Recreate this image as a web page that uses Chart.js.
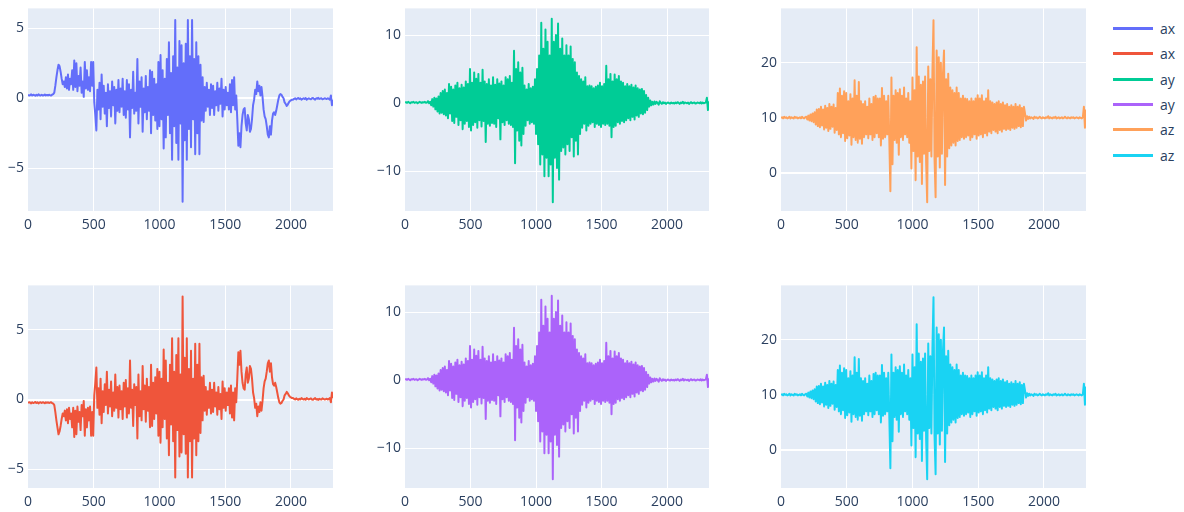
<!DOCTYPE html>
<html>
<head>
<meta charset="utf-8">
<script src="https://cdn.jsdelivr.net/npm/chart.js@4.4.0/dist/chart.umd.min.js"></script>
<style>
  body { margin: 0; background: #fff; width: 1184px; height: 512px; position: relative; overflow: hidden; font-family: "Open Sans", sans-serif; }
  canvas { position: absolute; }
  .legend-item { position: absolute; left: 1113px; height: 20px; display: flex; align-items: center; color: #2a3f5f; font-size: 14px; }
  .legend-item .swatch { width: 40px; height: 3px; margin-right: 7px; }
</style>
</head>
<body>
<script>
// one value every 8 samples (peaks and troughs alternate)
const STEP = 8;
const xTicks = [0, 500, 1000, 1500, 2000];

const ax1 = [0.25,0.2,0.22,0.28,0.2,0.25,0.22,0.18,0.25,0.2,0.28,0.22,0.2,0.25,0.2,0.22,0.27,0.2,0.24,0.2,0.25,0.22,0.2,0.26,0.3,
  0.4,0.9,1.5,2.0,2.4,2.3,1.9,1.4,1.0,1.2,0.8,
  1.5,0.7,1.7,0.6,1.4,1.0,2.0,0.6,2.7,0.8,2.5,0.5,1.6,0.9,2.2,0.4,1.2,0.1,2.6,0.7,2.0,0.6,1.5,0.5,2.6,0.9,2.6,
  -0.3,-1.2,-2.3,0.6,-0.8,1.1,-1.5,1.7,-0.6,0.9,-1.1,0.4,-2.0,1.0,-0.7,0.5,-1.3,1.2,-0.5,0.8,
  -1.8,0.6,-0.9,1.3,-1.0,0.7,-0.6,1.4,-1.2,0.5,-1.4,1.3,-0.8,1.0,-2.8,0.6,-0.7,1.9,-1.1,0.4,
  -0.9,2.8,-1.8,1.2,-0.6,1.5,-2.4,0.7,-1.0,1.6,-1.5,0.8,-0.9,2.0,-2.5,1.9,-1.2,1.4,-1.6,1.0,-2.2,2.6,
  -2.0,3.1,-1.5,2.0,-3.6,1.4,-2.8,2.8,-1.2,4.0,-2.5,1.8,-4.4,3.0,-2.0,5.6,-3.2,2.2,-4.4,4.1,
  -1.8,3.8,-7.4,2.5,-3.0,3.9,-4.4,5.6,-2.2,3.0,-3.5,5.6,-1.5,2.8,-4.0,4.0,-2.5,3.0,-4.0,2.4,-1.6,
  1.5,-1.7,0.8,-0.9,1.1,-0.6,0.6,-1.2,1.0,-0.7,0.9,-1.2,0.5,-0.5,1.1,-0.9,0.7,-0.4,1.4,-1.3,0.6,-0.8,0.8,-0.5,0.4,-0.8,1.0,-1.0,
  1.3,-0.5,1.5,-0.8,0.2,-1.5,-3.4,-2.5,-3.5,-2.0,-1.2,-0.8,-0.7,-1.8,-2.3,-1.2,-1.5,-2.4,-2.2,-1.5,
  -0.5,-0.1,0.6,0.3,1.2,0.5,0.9,0.2,0.8,0.1,-0.8,-1.3,-1.5,-2.0,-2.6,-2.8,-2.0,-2.6,-1.6,-1.1,
  -1.0,-1.2,-0.9,-0.5,-0.1,0.2,0.3,0.25,0.1,0.0,-0.3,-0.4,-0.55,-0.45,-0.3,-0.2,-0.15,-0.1,-0.1,
  -0.05,0.0,-0.08,-0.02,0.02,-0.05,0.0,-0.1,-0.05,0.0,-0.05,0.02,-0.1,-0.05,0.0,-0.05,-0.08,0.0,0.02,-0.05,
  -0.1,0.0,-0.03,0.03,-0.05,-0.02,0.0,-0.08,-0.05,0.0,-0.02,-0.06,0.0,-0.04,-0.1,
  0.2,-0.5,-0.1];

const ax2 = [-0.25,-0.2,-0.22,-0.28,-0.2,-0.25,-0.22,-0.18,-0.25,-0.2,-0.28,-0.22,-0.2,-0.25,-0.2,-0.22,-0.27,-0.2,-0.24,-0.2,-0.25,-0.22,-0.2,-0.26,-0.3,
  -0.4,-0.9,-1.5,-2.0,-2.5,-2.3,-1.9,-1.4,-1.0,-1.2,-0.8,
  -1.5,-0.7,-1.7,-0.6,-1.4,-1.0,-2.0,-0.6,-2.7,-0.8,-2.5,-0.5,-1.6,-0.9,-2.2,-0.4,-1.2,-0.1,-2.6,-0.7,-2.0,-0.6,-1.5,-0.5,-2.6,-0.9,-2.6,
  0.3,1.2,2.3,-0.6,0.8,-1.1,1.5,-1.7,0.6,-0.9,1.1,-0.4,2.0,-1.0,0.7,-0.5,1.3,-1.2,0.5,-0.8,
  1.8,-0.6,0.9,-1.3,1.0,-0.7,0.6,-1.4,1.2,-0.5,1.4,-1.3,0.8,-1.0,2.8,-0.6,0.7,-1.9,1.1,-0.4,
  0.9,-2.8,1.8,-1.2,0.6,-1.5,2.4,-0.7,1.0,-1.6,1.5,-0.8,0.9,-2.0,2.5,-1.9,1.2,-1.4,1.6,-1.0,2.2,-2.6,
  2.0,-3.1,1.5,-2.0,3.6,-1.4,2.8,-2.8,1.2,-4.0,2.5,-1.8,4.4,-3.0,2.0,-5.6,3.2,-2.2,4.4,-4.1,
  1.8,-3.8,7.4,-2.5,3.0,-3.9,4.4,-5.6,2.2,-3.0,3.5,-5.6,1.5,-2.8,4.0,-4.0,2.5,-3.0,4.0,-2.4,1.6,
  -1.5,1.7,-0.8,0.9,-1.1,0.6,-0.6,1.2,-1.0,0.7,-0.9,1.2,-0.5,0.5,-1.1,0.9,-0.7,0.4,-1.4,1.3,-0.6,0.8,-0.8,0.5,-0.4,0.8,-1.0,1.0,
  -1.3,0.5,-1.5,0.8,-0.2,1.5,3.4,2.5,3.5,2.0,1.2,0.8,0.7,1.8,2.3,1.2,1.5,2.4,2.2,1.5,
  0.5,0.1,-0.6,-0.3,-1.2,-0.5,-0.9,-0.2,-0.8,-0.1,0.8,1.3,1.5,2.0,2.6,2.8,2.0,2.6,1.6,1.1,
  1.0,1.2,0.9,0.5,0.1,-0.2,-0.3,-0.25,-0.1,0.0,0.3,0.4,0.55,0.45,0.3,0.2,0.15,0.1,0.1,
  0.05,0.0,0.08,0.02,-0.02,0.05,0.0,0.1,0.05,0.0,0.05,-0.02,0.1,0.05,0.0,0.05,0.08,0.0,-0.02,0.05,
  0.1,0.0,0.03,-0.03,0.05,0.02,0.0,0.08,0.05,0.0,0.02,0.06,0.0,0.04,0.1,
  -0.2,0.5,0.1];

const ay1 = [0.1,0.15,0.05,0.2,0.1,0.0,0.15,0.1,0.2,0.05,0.1,0.15,0.0,0.1,0.2,0.1,0.05,0.15,0.1,0.2,0.05,0.1,0.3,0.0,0.2,
  -0.3,0.6,-0.5,0.8,-0.9,0.7,-1.2,1.0,-1.5,1.5,-1.4,
  1.8,-1.6,2.0,-1.8,1.5,-2.2,2.8,-1.5,2.4,-2.6,2.0,-2.9,2.6,-2.0,3.0,-3.2,2.2,-2.5,2.7,-3.8,2.3,-3.0,3.2,-2.6,2.8,-3.5,5.0,
  -4.0,3.0,-3.2,4.5,-2.8,3.6,-3.6,4.3,-2.5,3.0,-3.4,4.9,-2.6,3.2,-5.7,2.8,-3.0,3.5,-3.3,2.6,
  -2.9,3.8,-3.0,2.7,-3.5,3.5,-2.2,2.9,-5.3,3.2,
  -2.8,2.6,-3.2,3.8,-2.5,3.5,-3.0,4.0,-3.2,3.0,-3.5,7.7,-8.8,5.0,-4.0,6.0,-5.5,4.5,-6.2,5.2,
  -4.5,2.6,-3.3,2.0,-2.5,2.8,-3.0,2.2,-2.8,2.4,-3.0,3.5,
  -4.5,5.0,-6.0,7.0,-9.0,11.8,-7.5,8.0,-10.7,10.8,-8.0,9.0,-10.7,7.0,-9.0,12.4,-14.5,9.0,-8.0,10.0,
  -9.5,11.7,-11.2,8.0,-7.0,9.5,-6.5,7.0,-7.5,8.5,-6.0,7.0,-7.0,8.3,-5.0,6.5,-7.8,6.0,-5.5,4.5,-7.5,
  4.0,-4.5,3.5,-3.6,3.2,-3.0,3.8,-4.0,2.5,-3.3,2.6,-3.0,2.5,-2.8,2.2,-3.5,2.4,-3.0,2.6,-3.2,3.0,-3.5,2.5,-3.0,2.8,-3.2,5.5,-3.0,
  3.5,-3.3,4.3,-5.0,3.2,-3.5,4.2,-3.3,3.5,-2.8,4.0,-3.0,3.2,-2.6,3.0,-2.8,2.5,-2.5,2.8,-2.2,
  2.5,-2.5,2.7,-2.0,2.3,-2.4,2.6,-1.8,2.2,-2.0,2.0,-1.5,2.1,-1.6,1.8,-1.4,1.2,-1.0,0.8,-0.5,0.4,-0.3,
  0.2,-0.2,0.25,-0.1,0.2,0.0,-0.2,0.3,0.05,-0.1,0.15,0.0,0.1,-0.1,0.05,0.1,0.0,-0.05,0.1,0.0,
  0.05,-0.05,0.1,0.0,0.15,0.05,-0.1,0.1,0.0,0.2,-0.05,0.1,0.05,0.0,0.1,-0.1,0.05,0.15,0.0,0.05,
  0.1,-0.05,0.0,0.1,0.05,0.0,0.15,-0.05,0.1,0.0,0.05,0.1,
  0.8,-1.0,0.3];

const ay2 = [0.1,0.15,0.05,0.2,0.1,0.0,0.15,0.1,0.2,0.05,0.1,0.15,0.0,0.1,0.2,0.1,0.05,0.15,0.1,0.2,0.05,0.1,0.3,0.0,0.2,
  -0.3,0.6,-0.5,0.8,-0.9,0.7,-1.2,1.0,-1.5,1.5,-1.4,
  1.8,-1.6,2.0,-1.8,1.5,-2.2,2.8,-1.5,2.4,-2.6,2.0,-2.9,2.6,-2.0,3.0,-3.2,2.2,-2.5,2.7,-3.8,2.3,-3.0,3.2,-2.6,2.8,-3.5,5.0,
  -4.0,3.0,-3.2,4.5,-2.8,3.6,-3.6,4.3,-2.5,3.0,-3.4,4.9,-2.6,3.2,-5.7,2.8,-3.0,3.5,-3.3,2.6,
  -2.9,3.8,-3.0,2.7,-3.5,3.5,-2.2,2.9,-5.3,3.2,
  -2.8,2.6,-3.2,3.8,-2.5,3.5,-3.0,4.0,-3.2,3.0,-3.5,7.7,-8.8,5.0,-4.0,6.0,-5.5,4.5,-6.2,5.2,
  -4.5,2.6,-3.3,2.0,-2.5,2.8,-3.0,2.2,-2.8,2.4,-3.0,3.5,
  -4.5,5.0,-6.0,7.0,-9.0,11.8,-7.5,8.0,-10.7,10.8,-8.0,9.0,-10.7,7.0,-9.0,12.4,-14.5,9.0,-8.0,10.0,
  -9.5,11.7,-11.2,8.0,-7.0,9.5,-6.5,7.0,-7.5,8.5,-6.0,7.0,-7.0,8.3,-5.0,6.5,-7.8,6.0,-5.5,4.5,-7.5,
  4.0,-4.5,3.5,-3.6,3.2,-3.0,3.8,-4.0,2.5,-3.3,2.6,-3.0,2.5,-2.8,2.2,-3.5,2.4,-3.0,2.6,-3.2,3.0,-3.5,2.5,-3.0,2.8,-3.2,5.5,-3.0,
  3.5,-3.3,4.3,-5.0,3.2,-3.5,4.2,-3.3,3.5,-2.8,4.0,-3.0,3.2,-2.6,3.0,-2.8,2.5,-2.5,2.8,-2.2,
  2.5,-2.5,2.7,-2.0,2.3,-2.4,2.6,-1.8,2.2,-2.0,2.0,-1.5,2.1,-1.6,1.8,-1.4,1.2,-1.0,0.8,-0.5,0.4,-0.3,
  0.2,-0.2,0.25,-0.1,0.2,0.0,-0.2,0.3,0.05,-0.1,0.15,0.0,0.1,-0.1,0.05,0.1,0.0,-0.05,0.1,0.0,
  0.05,-0.05,0.1,0.0,0.15,0.05,-0.1,0.1,0.0,0.2,-0.05,0.1,0.05,0.0,0.1,-0.1,0.05,0.15,0.0,0.05,
  0.1,-0.05,0.0,0.1,0.05,0.0,0.15,-0.05,0.1,0.0,0.05,0.1,
  0.8,-1.0,0.3];

const az1 = [10.0,10.1,9.9,10.2,10.0,10.1,9.9,10.0,10.2,9.9,10.1,10.0,9.9,10.2,10.0,10.1,9.9,10.0,10.1,9.9,10.2,10.0,9.9,10.1,10.2,
  9.7,10.4,9.5,10.6,9.4,10.8,9.2,11.0,8.8,11.5,8.5,
  11.6,8.3,12.0,8.6,11.5,7.9,12.2,8.2,11.8,7.6,12.5,8.0,12.0,8.4,12.4,7.3,11.8,7.8,14.5,7.0,15.3,6.5,14.0,7.2,14.8,5.8,14.5,
  6.3,13.0,6.8,14.3,5.1,13.5,6.5,16.8,6.0,14.0,5.5,16.5,6.2,13.0,5.3,12.5,6.5,13.0,7.0,12.0,
  6.3,13.5,7.0,12.5,6.0,13.8,6.5,14.0,7.2,13.5,6.5,13.5,5.0,15.4,6.2,14.0,6.5,13.0,7.0,14.0,
  6.0,-3.3,17.3,1.6,14.0,6.0,15.0,5.5,14.5,3.3,15.2,6.5,14.0,6.0,15.5,7.0,13.5,6.5,14.5,5.5,13.0,0.8,
  17.3,4.0,15.0,-1.3,22.8,3.0,17.5,2.0,16.0,-2.0,16.6,3.5,17.5,2.0,-5.3,19.3,4.0,17.0,3.0,18.5,
  27.7,2.5,-4.4,22.2,3.0,21.0,1.0,20.0,3.5,18.0,22.2,-2.2,17.0,3.0,18.0,4.5,15.5,5.0,15.0,5.5,14.5,
  5.0,15.5,5.8,14.5,6.0,13.5,6.5,14.0,6.2,13.5,6.5,13.4,6.8,13.0,6.0,13.5,6.5,13.0,7.0,13.5,6.2,14.1,6.8,13.5,7.0,14.1,6.5,13.0,
  7.2,13.5,6.8,15.0,7.5,13.0,7.2,12.8,7.8,12.5,7.5,12.8,7.2,13.0,7.8,12.5,7.5,12.8,8.0,12.3,
  7.8,12.5,8.0,12.0,7.8,12.3,8.2,12.0,8.0,12.5,8.2,12.0,8.5,12.3,8.3,11.8,8.5,12.0,10.8,9.5,10.3,9.8,
  10.2,9.9,10.1,10.0,9.8,10.2,10.0,10.1,9.9,10.0,10.2,10.0,9.9,10.1,10.0,9.9,10.1,10.0,10.3,9.9,
  10.1,10.0,9.9,10.1,10.0,10.2,9.9,10.0,10.1,9.9,10.0,10.1,9.9,10.0,10.2,10.0,9.9,10.1,10.0,9.9,
  10.1,10.0,10.1,9.9,10.0,10.1,10.0,9.9,10.1,10.0,9.9,10.1,
  12.0,8.2,11.5];

const az2 = [10.0,10.1,9.9,10.2,10.0,10.1,9.9,10.0,10.2,9.9,10.1,10.0,9.9,10.2,10.0,10.1,9.9,10.0,10.1,9.9,10.2,10.0,9.9,10.1,10.2,
  9.7,10.4,9.5,10.6,9.4,10.8,9.2,11.0,8.8,11.5,8.5,
  11.6,8.3,12.0,8.6,11.5,7.9,12.2,8.2,11.8,7.6,12.5,8.0,12.0,8.4,12.4,7.3,11.8,7.8,14.5,7.0,15.3,6.5,14.0,7.2,14.8,5.8,14.5,
  6.3,13.0,6.8,14.3,5.1,13.5,6.5,16.8,6.0,14.0,5.5,16.5,6.2,13.0,5.3,12.5,6.5,13.0,7.0,12.0,
  6.3,13.5,7.0,12.5,6.0,13.8,6.5,14.0,7.2,13.5,6.5,13.5,5.0,15.4,6.2,14.0,6.5,13.0,7.0,14.0,
  6.0,-3.3,17.3,1.6,14.0,6.0,15.0,5.5,14.5,3.3,15.2,6.5,14.0,6.0,15.5,7.0,13.5,6.5,14.5,5.5,13.0,0.8,
  17.3,4.0,15.0,-1.3,22.8,3.0,17.5,2.0,16.0,-2.0,16.6,3.5,17.5,2.0,-5.3,19.3,4.0,17.0,3.0,18.5,
  27.7,2.5,-4.4,22.2,3.0,21.0,1.0,20.0,3.5,18.0,22.2,-2.2,17.0,3.0,18.0,4.5,15.5,5.0,15.0,5.5,14.5,
  5.0,15.5,5.8,14.5,6.0,13.5,6.5,14.0,6.2,13.5,6.5,13.4,6.8,13.0,6.0,13.5,6.5,13.0,7.0,13.5,6.2,14.1,6.8,13.5,7.0,14.1,6.5,13.0,
  7.2,13.5,6.8,15.0,7.5,13.0,7.2,12.8,7.8,12.5,7.5,12.8,7.2,13.0,7.8,12.5,7.5,12.8,8.0,12.3,
  7.8,12.5,8.0,12.0,7.8,12.3,8.2,12.0,8.0,12.5,8.2,12.0,8.5,12.3,8.3,11.8,8.5,12.0,10.8,9.5,10.3,9.8,
  10.2,9.9,10.1,10.0,9.8,10.2,10.0,10.1,9.9,10.0,10.2,10.0,9.9,10.1,10.0,9.9,10.1,10.0,10.3,9.9,
  10.1,10.0,9.9,10.1,10.0,10.2,9.9,10.0,10.1,9.9,10.0,10.1,9.9,10.0,10.2,10.0,9.9,10.1,10.0,9.9,
  10.1,10.0,10.1,9.9,10.0,10.1,10.0,9.9,10.1,10.0,9.9,10.1,
  12.0,8.2,11.5];

const sampleIdx = ax1.map((_, i) => i * STEP);

// legend order follows the trace order
const panels = [
  { label: 'ax', values: ax1, color: '#636EFA', left: 28,  top: 8,   w: 305, yMin: -8.07, yMax: 6.43, yStep: 5 },
  { label: 'ax', values: ax2, color: '#EF553B', left: 28,  top: 285, w: 305, yMin: -6.36, yMax: 8.2,  yStep: 5 },
  { label: 'ay', values: ay1, color: '#00CC96', left: 405, top: 8,   w: 304, yMin: -15.8, yMax: 13.9, yStep: 10 },
  { label: 'ay', values: ay2, color: '#AB63FA', left: 405, top: 285, w: 304, yMin: -15.8, yMax: 13.9, yStep: 10 },
  { label: 'az', values: az1, color: '#FFA15A', left: 781, top: 8,   w: 305, yMin: -6.9,  yMax: 29.85, yStep: 10 },
  { label: 'az', values: az2, color: '#19D3F3', left: 781, top: 285, w: 305, yMin: -6.9,  yMax: 29.85, yStep: 10 }
];
const PLOT_H = 203;
const tickFont = { family: '"Open Sans", sans-serif', size: 14 };
const tickColor = '#2a3f5f';

const plotBg = {
  id: 'plotBg',
  beforeDraw(chart) {
    const { ctx, chartArea: a } = chart;
    ctx.save();
    ctx.fillStyle = '#E5ECF6';
    ctx.fillRect(a.left, a.top, a.right - a.left, a.bottom - a.top);
    ctx.restore();
  }
};

const fmt = v => String(v).replace('-', '\u2212');

function makePanel(p) {
  const c = document.createElement('canvas');
  const w = p.w + 50 + 12, h = PLOT_H + 12 + 30;
  c.width = w; c.height = h;
  c.style.width = w + 'px'; c.style.height = h + 'px';
  c.style.left = (p.left - 50) + 'px';
  c.style.top = (p.top - 12) + 'px';
  document.body.appendChild(c);

  new Chart(c, {
    type: 'line',
    data: {
      datasets: [{
        label: p.label,
        data: p.values.map((v, i) => ({ x: sampleIdx[i], y: v })),
        borderColor: p.color,
        borderWidth: 2,
        borderJoinStyle: 'round',
        pointRadius: 0,
        tension: 0,
        fill: false
      }]
    },
    options: {
      responsive: false,
      animation: false,
      layout: { padding: { top: 12, right: 12, left: 0, bottom: 0 } },
      plugins: { legend: { display: false }, tooltip: { enabled: false } },
      scales: {
        x: {
          type: 'linear',
          min: 0,
          max: 2320,
          border: { display: false },
          grid: { color: '#ffffff', drawTicks: false, lineWidth: ctx => (ctx.tick && ctx.tick.value === 0 ? 0 : 1) },
          ticks: { padding: 6, maxRotation: 0, color: tickColor, font: tickFont, callback: fmt },
          afterBuildTicks: s => { s.ticks = xTicks.map(v => ({ value: v })); },
          afterFit: s => { s.height = 30; }
        },
        y: {
          min: p.yMin,
          max: p.yMax,
          border: { display: false },
          grid: { color: '#ffffff', drawTicks: false, lineWidth: ctx => (ctx.tick && ctx.tick.value === 0 ? 2 : 1) },
          ticks: { stepSize: p.yStep, includeBounds: false, padding: 4, color: tickColor, font: tickFont, callback: fmt },
          afterFit: s => { s.width = 50; }
        }
      }
    },
    plugins: [plotBg]
  });
}

panels.forEach(makePanel);

// legend on the right, one row per trace
const legendTop = [28, 53, 79, 104, 129, 155];
panels.forEach((p, i) => {
  const item = document.createElement('div');
  item.className = 'legend-item';
  item.style.top = (legendTop[i] - 10) + 'px';
  item.innerHTML = '<span class="swatch" style="background:' + p.color + '"></span>' + p.label;
  document.body.appendChild(item);
});
</script>
</body>
</html>
